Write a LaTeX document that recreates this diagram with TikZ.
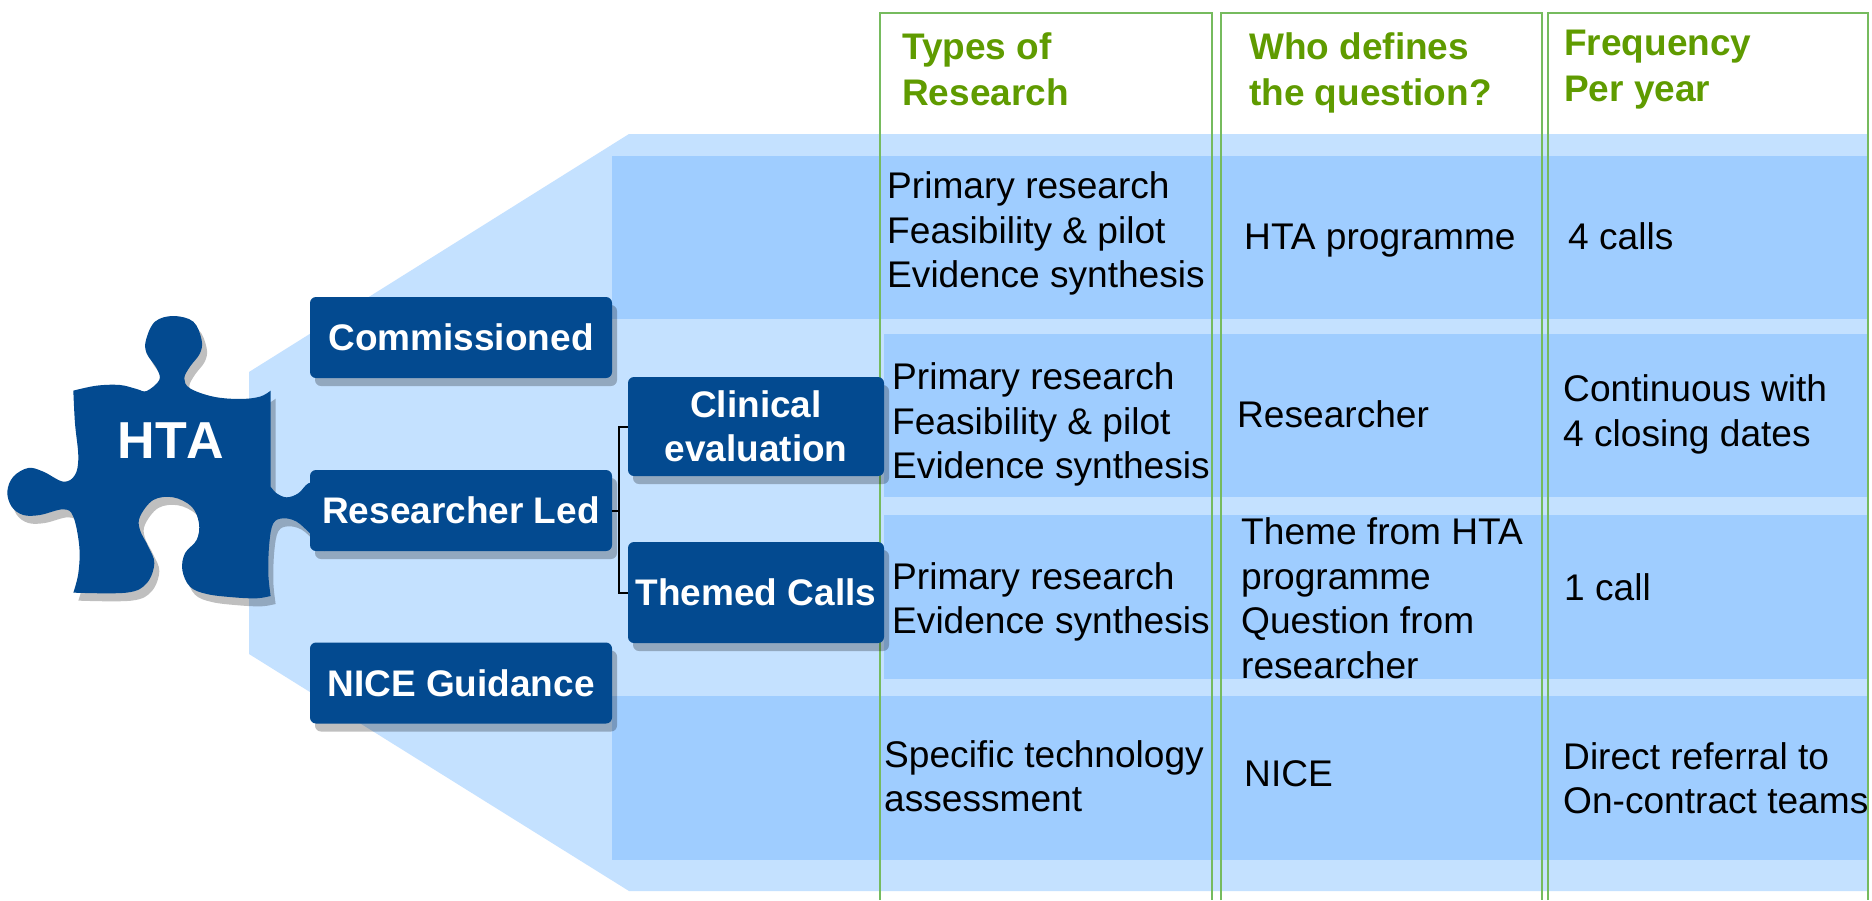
\documentclass[tikz,border=0pt]{standalone}
\usepackage{fontspec}
\setmainfont{Liberation Sans}
\newfontface\htaface{Liberation Sans Bold}[Kerning=Off]
\usetikzlibrary{shadows}
\definecolor{bandlight}{HTML}{C4E1FF}
\definecolor{banddeep}{HTML}{9FCDFF}
\definecolor{boxblue}{HTML}{034A90}
\definecolor{headgreen}{HTML}{5F9B00}
\definecolor{linegreen}{HTML}{76BB5E}
\tikzset{
  bluebox/.style={rectangle,rounded corners=6pt,fill=boxblue,text=white,inner sep=0pt,align=center,
    font=\fontsize{37}{44}\selectfont\bfseries,
    general shadow={fill=black,opacity=.25,shadow xshift=5pt,shadow yshift=-8pt}},
  rowband/.style={fill=banddeep,draw=none},
  colframe/.style={draw=linegreen,line width=2.6pt},
  bodytext/.style={anchor=west,align=left,inner sep=0pt,text=black,font=\fontsize{37.1}{44.5}\selectfont},
  headtext/.style={anchor=west,align=left,inner sep=0pt,text=headgreen,font=\fontsize{37}{46}\selectfont\bfseries},
  linkline/.style={draw=black,line width=2pt}
}
\newcommand{\puzzleoutline}{%
  plot[smooth,tension=0.6] coordinates {(220,302)(290,287)(360,285)(410,297)(440,303)(478,270)(470,235)(440,190)(438,150)(465,95)(520,78)(580,95)(605,150)(600,190)(570,230)(553,265)(570,295)(640,320)(720,327)(780,320)(812,302)}
  -- plot[smooth,tension=0.6] coordinates {(812,590)(830,610)(860,622)(895,610)(925,580)(960,575)}
  -- plot[smooth,tension=0.6] coordinates {(960,760)(930,730)(890,695)(850,685)(820,700)(808,760)(805,850)(812,918)}
  -- plot[smooth,tension=0.6] coordinates {(812,918)(770,925)(700,922)(620,912)(570,890)(547,840)(555,790)(590,750)(597,700)(575,650)(520,622)(460,630)(420,680)(420,720)(445,770)(463,820)(440,880)(380,908)(220,908)}
  -- plot[smooth,tension=0.6] coordinates {(220,908)(235,850)(238,770)(220,680)(190,658)(120,675)(70,675)(35,650)(22,605)(40,560)(85,534)(130,545)(190,575)(225,555)(235,500)(225,400)(220,302)}
  -- cycle}
\begin{document}
\begin{tikzpicture}[x=1pt,y=-1pt]
\useasboundingbox (0,0) rectangle (1872,900);
\fill[white] (0,0) rectangle (1872,900);
% light funnel band
\fill[bandlight] (249,372) -- (629,134) -- (1867,134) -- (1867,891) -- (629,891) -- (249,654) -- cycle;
% rows
\fill[rowband] (612,156) rectangle (1867,319);
\fill[rowband] (884,334) rectangle (1867,497);
\fill[rowband] (884,515) rectangle (1867,679);
\fill[rowband] (612,696) rectangle (1867,860);
% column frames
\draw[colframe] (880,900) -- (880,13) -- (1212,13) -- (1212,900);
\draw[colframe] (1221,900) -- (1221,13) -- (1542,13) -- (1542,900);
\draw[colframe] (1548,900) -- (1548,13) -- (1868,13) -- (1868,900);
% puzzle
\begin{scope}[x=0.3333pt,y=-0.3333pt,yshift=-290pt]
  \fill[black,opacity=.25,xshift=5pt,yshift=-8pt] \puzzleoutline;
  \fill[boxblue] \puzzleoutline;
\end{scope}
\node[anchor=center,inner sep=0pt,text=white,font=\fontsize{52}{58}\selectfont\htaface] (hta) at (171,441) {HTA};
% boxes
\node[bluebox,minimum width=302pt,minimum height=81pt] (comm) at (461,337.5) {Commissioned};
\node[bluebox,minimum width=302pt,minimum height=81pt] (res) at (461,510.5) {Researcher Led};
\node[bluebox,minimum width=302pt,minimum height=81pt] (nice) at (461,683) {NICE Guidance};
\node[bluebox,minimum width=256pt,minimum height=99pt] (clin) at (756,426.5) {Clinical\\evaluation};
\node[bluebox,minimum width=256pt,minimum height=101pt] (them) at (756,592.5) {Themed Calls};
% connectors
\coordinate (trunk) at (619,510.5);
\draw[linkline] (res.east) -- (trunk);
\draw[linkline] (trunk) |- (clin.west);
\draw[linkline] (trunk) |- (them.west);
% headers
\node[headtext] (h1) at (902,69) {Types of\\Research};
\node[headtext] (h2) at (1249,72.5) {Who defines\\the question?};
\node[headtext] (h3) at (1564,69.5) {Frequency\\Per year};
% column 1
\node[bodytext] (a1) at (887,233.5) {Primary research\\Feasibility \& pilot\\Evidence synthesis};
\node[bodytext] (a2) at (892,424.5) {Primary research\\Feasibility \& pilot\\Evidence synthesis};
\node[bodytext] (a3) at (892,602) {Primary research\\Evidence synthesis};
\node[bodytext] (a4) at (884,776) {Specific technology\\assessment};
% column 2
\node[bodytext] (b1) at (1244,240.5) {HTA programme};
\node[bodytext] (b2) at (1237,414) {Researcher};
\node[bodytext] (b3) at (1241,598) {Theme from HTA\\programme\\Question from\\researcher};
\node[bodytext] (b4) at (1244,774) {NICE};
% column 3
\node[bodytext] (c1) at (1568,236) {4 calls};
\node[bodytext] (c2) at (1563,414.5) {Continuous with\\4 closing dates};
\node[bodytext] (c3) at (1564,587) {1 call};
\node[bodytext] (c4) at (1563,778) {Direct referral to\\On-contract teams};
\end{tikzpicture}
\end{document}
